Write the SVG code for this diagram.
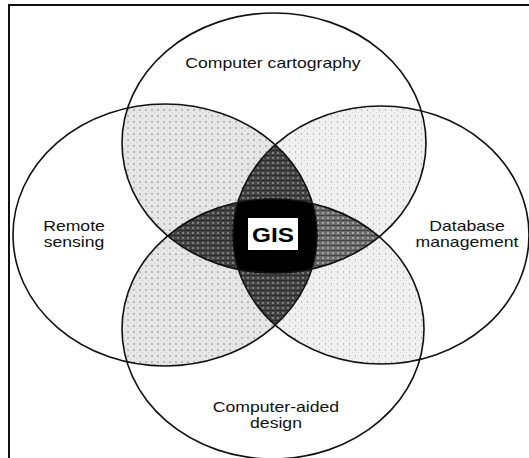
<svg xmlns="http://www.w3.org/2000/svg" width="529" height="458" viewBox="0 0 529 458">
<style>
.lbl{font-family:"Liberation Sans",Arial,Helvetica,sans-serif;font-size:14px;fill:#111;text-anchor:middle}
.gis{font-family:"Liberation Sans",Arial,Helvetica,sans-serif;font-size:21px;font-weight:bold;fill:#000;text-anchor:middle}
.ring{fill:none;stroke:#111;stroke-width:1.6}
.frame{stroke:#111;stroke-width:2;fill:none}
</style>
<defs>
<clipPath id="cT"><ellipse cx="274" cy="143" rx="152" ry="130"/></clipPath>
<clipPath id="cB"><ellipse cx="273" cy="329" rx="151" ry="130"/></clipPath>
<clipPath id="cL"><ellipse cx="165" cy="235" rx="152" ry="131"/></clipPath>
<clipPath id="cR"><ellipse cx="381" cy="235" rx="148" ry="129"/></clipPath>
<pattern id="pLa" width="6" height="6" patternUnits="userSpaceOnUse">
<rect width="6" height="6" fill="#e6e6e6"/><rect x="1" y="1" width="2" height="2" fill="#b8b8b8"/><rect x="4" y="4" width="1" height="1" fill="#c8c8c8"/>
</pattern>
<pattern id="pLb" width="6" height="6" patternUnits="userSpaceOnUse">
<rect width="6" height="6" fill="#f0f0f0"/><rect x="1" y="1" width="1" height="2" fill="#bcbcbc"/><rect x="4" y="4" width="1" height="1" fill="#d4d4d4"/>
</pattern>
<pattern id="pDa" width="5" height="5" patternUnits="userSpaceOnUse">
<rect width="5" height="5" fill="#444"/><rect x="2" y="2" width="2" height="2" fill="#7e7e7e"/><rect width="5" height="1" fill="#2c2c2c"/>
</pattern>
<pattern id="pDb" width="5" height="5" patternUnits="userSpaceOnUse">
<rect width="5" height="5" fill="#6a6a6a"/><rect x="2" y="2" width="2" height="2" fill="#a4a4a4"/><rect width="5" height="1" fill="#444"/>
</pattern>
</defs>
<rect width="529" height="458" fill="#fff"/>
<g id="overlaps">
<g clip-path="url(#cT)"><rect width="529" height="458" clip-path="url(#cL)" fill="url(#pLa)"/></g>
<g clip-path="url(#cB)"><rect width="529" height="458" clip-path="url(#cL)" fill="url(#pLa)"/></g>
<g clip-path="url(#cT)"><rect width="529" height="458" clip-path="url(#cR)" fill="url(#pLb)"/></g>
<g clip-path="url(#cB)"><rect width="529" height="458" clip-path="url(#cR)" fill="url(#pLb)"/></g>
<g clip-path="url(#cT)"><g clip-path="url(#cL)"><rect width="529" height="458" clip-path="url(#cR)" fill="url(#pDa)"/></g></g>
<g clip-path="url(#cB)"><g clip-path="url(#cL)"><rect width="529" height="458" clip-path="url(#cR)" fill="url(#pDa)"/></g></g>
<g clip-path="url(#cT)"><g clip-path="url(#cL)"><rect width="529" height="458" clip-path="url(#cB)" fill="url(#pDa)"/></g></g>
<g clip-path="url(#cT)"><g clip-path="url(#cR)"><rect width="529" height="458" clip-path="url(#cB)" fill="url(#pDb)"/></g></g>
<g clip-path="url(#cT)"><g clip-path="url(#cB)"><g clip-path="url(#cL)"><rect width="529" height="458" clip-path="url(#cR)" fill="#000"/></g></g></g>
</g>
<path class="frame" d="M9,458 V5 H529"/>
<g id="computer-cartography">
<ellipse class="ring" cx="274" cy="143" rx="152" ry="130"/>
<text class="lbl" transform="translate(273,68) scale(1.26,1)">Computer cartography</text>
</g>
<g id="remote-sensing">
<ellipse class="ring" cx="165" cy="235" rx="152" ry="131"/>
<text class="lbl" transform="translate(74,231) scale(1.26,1)">Remote</text>
<text class="lbl" transform="translate(74,246.8) scale(1.26,1)">sensing</text>
</g>
<g id="database-management">
<ellipse class="ring" cx="381" cy="235" rx="148" ry="129"/>
<text class="lbl" transform="translate(467,231) scale(1.26,1)">Database</text>
<text class="lbl" transform="translate(467,246.8) scale(1.26,1)">management</text>
</g>
<g id="computer-aided-design">
<ellipse class="ring" cx="273" cy="329" rx="151" ry="130"/>
<text class="lbl" transform="translate(276,412) scale(1.26,1)">Computer-aided</text>
<text class="lbl" transform="translate(276,427.8) scale(1.26,1)">design</text>
</g>
<g id="gis">
<rect x="248" y="218" width="50" height="32" fill="#fff"/>
<text class="gis" transform="translate(273,241.5) scale(1.16,1)">GIS</text>
</g>
</svg>
